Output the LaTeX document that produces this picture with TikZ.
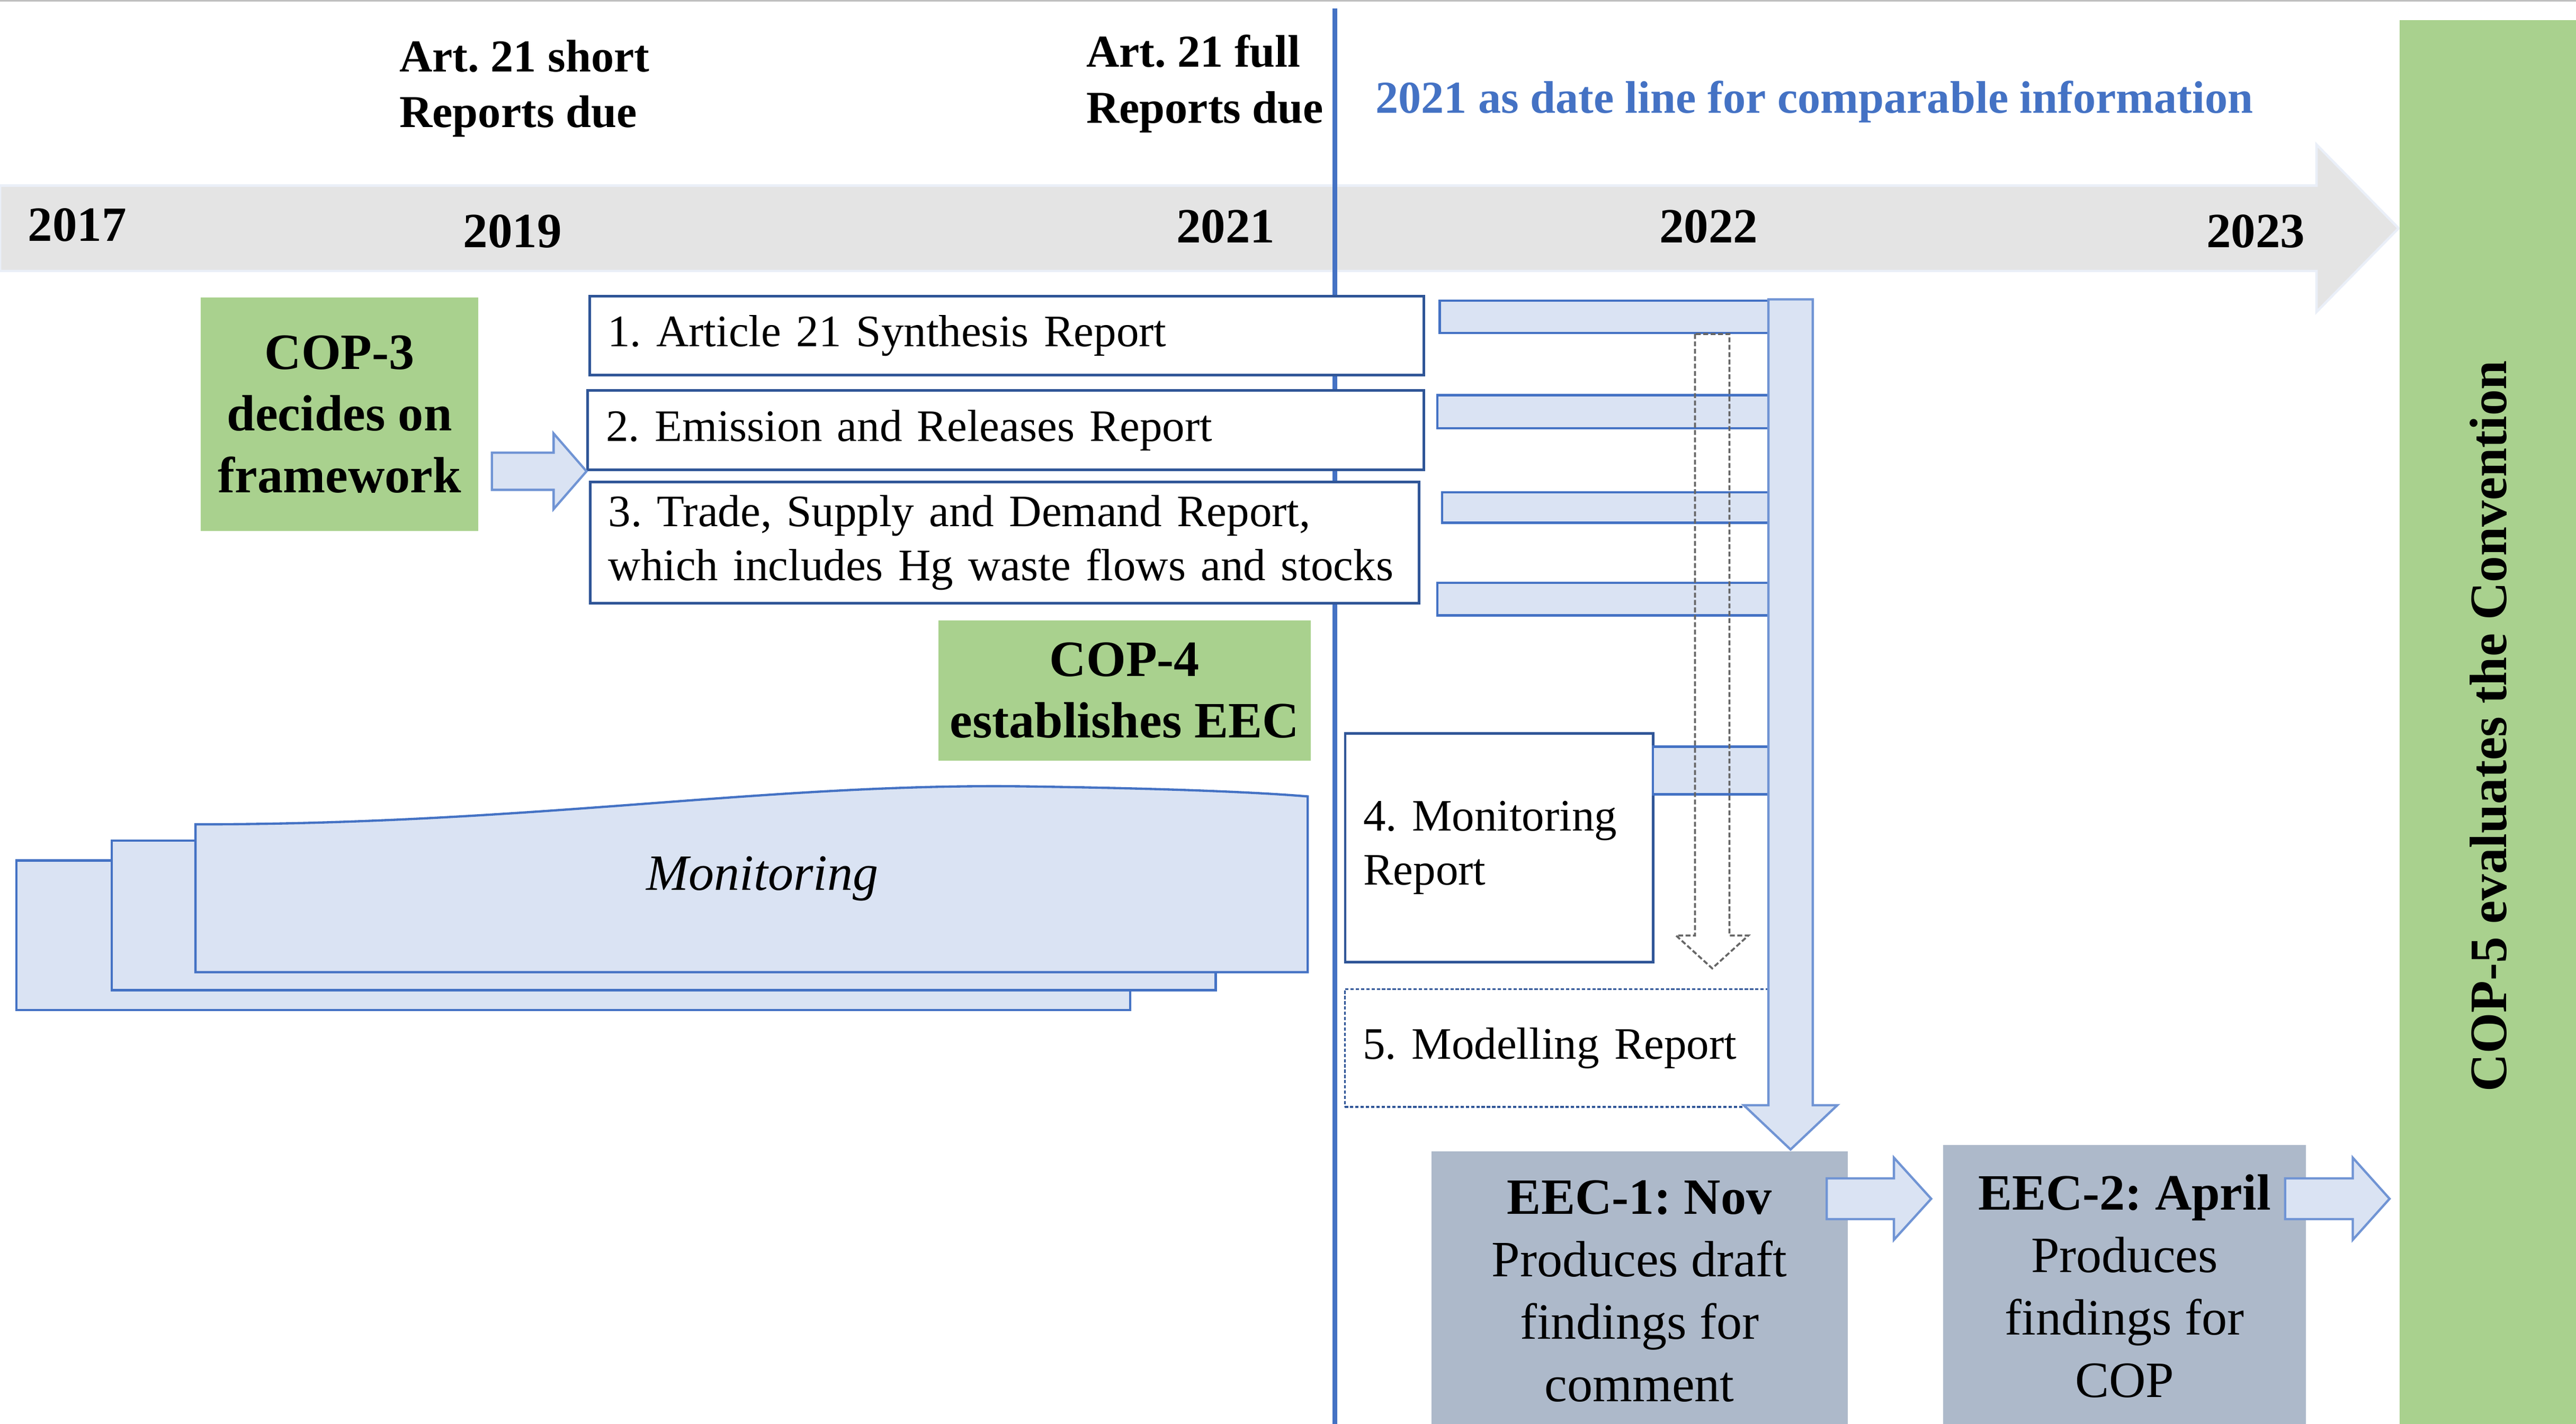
\documentclass[tikz,border=0pt]{standalone}
\usepackage{fontspec}
\setmainfont{Liberation Serif}
\usepackage{tikz}
\usetikzlibrary{calc}
\definecolor{boxblue}{RGB}{47, 85, 151}
\definecolor{lineblue}{RGB}{68, 114, 196}
\definecolor{arrowblue}{RGB}{112, 148, 212}
\definecolor{lightblue}{RGB}{218, 227, 243}
\definecolor{copgreen}{RGB}{169, 209, 142}
\definecolor{eecgray}{RGB}{173, 185, 202}
\definecolor{bandgray}{RGB}{228, 228, 228}
\definecolor{bandedge}{RGB}{234, 239, 248}
\frenchspacing

% block arrows: start, tip, shaft half width, head half width, head length
\newcommand{\hblockarrow}[5]{%
  \draw[arrowbody] let \p1=(#1), \p2=(#2) in
    (\x1,\y2+#3) -- (\x2-#5,\y2+#3) -- (\x2-#5,\y2+#4) -- (\x2,\y2)
    -- (\x2-#5,\y2-#4) -- (\x2-#5,\y2-#3) -- (\x1,\y2-#3) -- cycle;}
\newcommand{\vblockarrow}[6]{%
  \draw[#6] let \p1=(#1), \p2=(#2) in
    (\x2-#3,\y1) -- (\x2-#3,\y2+#5) -- (\x2-#4,\y2+#5) -- (\x2,\y2)
    -- (\x2+#4,\y2+#5) -- (\x2+#3,\y2+#5) -- (\x2+#3,\y1) -- cycle;}

\begin{document}
\begin{tikzpicture}[x=1pt, y=-1pt,
  repbox/.style={draw=boxblue, line width=1.6pt, fill=white, inner xsep=11pt, inner ysep=0pt,
    align=left, anchor=north west, font=\fontsize{27.4}{33}\selectfont},
  greenbox/.style={fill=copgreen, inner sep=0pt, align=center, anchor=north west,
    font=\fontsize{31}{37.5}\selectfont\bfseries},
  eecbox/.style={fill=eecgray, inner sep=0pt, align=center, anchor=north west,
    font=\fontsize{31}{38}\selectfont},
  barbox/.style={draw=lineblue, line width=1.4pt, fill=lightblue, inner sep=0pt, anchor=north west},
  docshape/.style={draw=lineblue, line width=1.4pt, fill=lightblue},
  arrowbody/.style={draw=arrowblue, line width=1.4pt, fill=lightblue, line join=miter},
  dasharrow/.style={draw=black!60, line width=1.2pt, dash pattern=on 3pt off 1.5pt},
  yearlbl/.style={font=\fontsize{30}{34}\selectfont\bfseries},
  toplbl/.style={inner sep=0pt, align=left, anchor=west, font=\fontsize{27.8}{34}\selectfont\bfseries}]
\useasboundingbox (0,0) rectangle (1568,867);
\draw[black!25, line width=0.8pt] (0,0.5) -- (1568,0.5);

% Time line
\draw[bandedge, line width=1.5pt, fill=bandgray] (0,113) -- (1410,113) -- (1410,88) -- (1460,139)
  -- (1410,190) -- (1410,165) -- (0,165) -- cycle;
\foreach \yr/\xx/\yy in {2017/47/137, 2019/312/141, 2021/746/138, 2022/1040/138, 2023/1373/141} {
    \node[yearlbl] (y\yr) at (\xx,\yy) {\yr};
}

% 2021 date line
\draw[lineblue, line width=2.8pt] (812.5,5) -- (812.5,867);
\node[toplbl] (shortlbl) at (243,54) {Art. 21 short\\Reports due};
\node[toplbl] (fulllbl) at (661,51) {Art. 21 full\\Reports due};
\node[toplbl, text=lineblue] (datelbl) at (837,62) {2021 as date line for comparable information};

% COP-3 and the reports
\node[greenbox, minimum width=169, minimum height=142] (cop3) at (122,181) {COP-3\\decides on\\framework};
\node[repbox, text width=486, minimum height=48] (rep1) at (358,179.5) {1. Article 21 Synthesis Report};
\node[repbox, text width=487, minimum height=48.4] (rep2) at (357,237) {2. Emission and Releases Report};
\node[repbox, text width=482.5, minimum height=74] (rep3) at (358.5,292.6)
  {3. Trade, Supply and Demand Report,\\which includes Hg waste flows and stocks};
\hblockarrow{$(cop3.east)+(8,0)$}{rep2.south west}{11.3pt}{23pt}{20pt}

\node[greenbox, minimum width=226.6, minimum height=85.4] (cop4) at (571,377.6) {COP-4\\establishes EEC};

% Monitoring stack
\draw[docshape] (10,524) rectangle (688,615);
\draw[docshape] (68,512) rectangle (740,603);
\draw[docshape] (119,592) -- (119,502) .. controls (330,502) and (470,476) .. (631,479)
  .. controls (700,480) and (760,482) .. (796,485) -- (796,592) -- cycle;
\node[font=\fontsize{31}{36}\selectfont\itshape] (monlbl) at (464,535) {Monitoring};

\node[repbox, text width=165.4, minimum height=139.3] (rep4) at (818,445.7) {4. Monitoring\\Report};
\node[repbox, line width=1.2pt, dash pattern=on 2pt off 1.2pt, text width=236, minimum height=71.8]
  (rep5) at (818,601.7) {5. Modelling Report};

% Feeds into the EEC
\foreach \n/\xl/\yt/\yb in {1/875.6/182.3/202, 2/874.3/240/260, 3/877/299.2/317.6, 4/874.3/354.3/374, 5/1005.4/454/483} {
    \node[barbox, minimum width={1076-\xl}, minimum height={\yb-\yt}] (bar\n) at (\xl,\yt) {};
}
\vblockarrow{$(bar1.south east)+(-35,0)$}{$(rep5.north east)+(-35,-12)$}{10.5pt}{22pt}{20pt}{dasharrow}

% EEC meetings
\node[eecbox, minimum width=253.5, minimum height=170] (eec1) at (871,701)
  {\textbf{EEC-1: Nov}\\Produces draft\\findings for\\comment};
\node[eecbox, minimum width=221, minimum height=172] (eec2) at (1182.5,697)
  {\textbf{EEC-2: April}\\Produces\\findings for\\COP};
\node[greenbox, minimum width=108, minimum height=860, font=\fontsize{32}{38}\selectfont\bfseries]
  (cop5) at (1460.5,12) {\rotatebox{90}{COP-5 evaluates the Convention}};

\vblockarrow{$(bar1.north east)+(13.5,0)$}{$(eec1.north east)+(-35,-1)$}{13.5pt}{28.5pt}{27pt}{arrowbody}
\hblockarrow{$(eec1.north east)+(-13,29)$}{$(eec2.north west)+(-7,33)$}{12.4pt}{25pt}{22.7pt}
\hblockarrow{$(eec2.north east)+(-13,33)$}{$(cop5.west |- eec2.north)+(-6,33)$}{12.4pt}{25pt}{22.4pt}
\end{tikzpicture}
\end{document}
